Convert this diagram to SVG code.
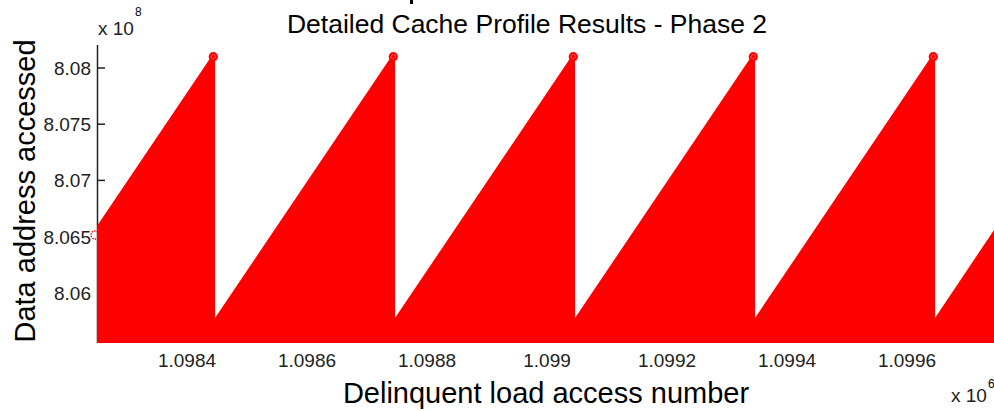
<svg xmlns="http://www.w3.org/2000/svg" width="994" height="411" viewBox="0 0 994 411">
<style>
text{font-family:"Liberation Sans",Arial,sans-serif;fill:#000}
.tk{font-size:19px;fill:#222}
.ty{text-anchor:end}
.tx{text-anchor:middle}
.lab{font-size:29px}
.axis{stroke:#222;stroke-width:1.5;fill:none}
.mk{fill:#f00}
.mkd{fill:none;stroke:#fff;stroke-width:0.8;stroke-dasharray:1 1.6}
</style>
<rect width="994" height="411" fill="#fff"/>
<rect x="410" y="0" width="3" height="4" fill="#000"/>
<g id="title"><text x="527" y="33" font-size="26.5" text-anchor="middle">Detailed Cache Profile Results - Phase 2</text></g>
<g id="y-axis">
<line class="axis" x1="97.5" y1="45" x2="97.5" y2="343"/>
<line class="axis" x1="97" y1="68" x2="105" y2="68"/>
<line class="axis" x1="97" y1="124.2" x2="105" y2="124.2"/>
<line class="axis" x1="97" y1="180.4" x2="105" y2="180.4"/>
<line class="axis" x1="97" y1="236.6" x2="105" y2="236.6"/>
<line class="axis" x1="97" y1="292.8" x2="105" y2="292.8"/>
<text class="tk ty" x="91" y="75">8.08</text>
<text class="tk ty" x="91" y="131.2">8.075</text>
<text class="tk ty" x="91" y="187.4">8.07</text>
<text class="tk ty" x="91" y="243.6">8.065</text>
<text class="tk ty" x="91" y="299.8">8.06</text>
<text class="tk" x="98" y="35">x 10</text>
<text x="135" y="16" font-size="12" fill="#222">8</text>
<text class="lab" transform="translate(35,191) rotate(-90)" text-anchor="middle">Data address accessed</text>
</g>
<g id="data">
<polygon fill="#f00" points="97,343 97,226 211,57 215,57 215,318 391,57 395,57 395,318 571,57 575,57 575,318 751,57 755,57 755,318 931,57 935,57 935,318 994,230 994,343"/>
<circle cx="95" cy="235" r="4" fill="none" stroke="#f00" stroke-width="1.3" stroke-dasharray="1.5 1"/>
<circle class="mk" cx="213.3" cy="56.7" r="4.6"/>
<circle class="mkd" cx="213.3" cy="56.7" r="2.2"/>
<circle class="mk" cx="393.3" cy="56.7" r="4.6"/>
<circle class="mkd" cx="393.3" cy="56.7" r="2.2"/>
<circle class="mk" cx="573.3" cy="56.7" r="4.6"/>
<circle class="mkd" cx="573.3" cy="56.7" r="2.2"/>
<circle class="mk" cx="753.3" cy="56.7" r="4.6"/>
<circle class="mkd" cx="753.3" cy="56.7" r="2.2"/>
<circle class="mk" cx="933.3" cy="56.7" r="4.6"/>
<circle class="mkd" cx="933.3" cy="56.7" r="2.2"/>
</g>
<g id="x-axis">
<text class="tk tx" x="187" y="367">1.0984</text>
<text class="tk tx" x="307" y="367">1.0986</text>
<text class="tk tx" x="427" y="367">1.0988</text>
<text class="tk tx" x="547" y="367">1.099</text>
<text class="tk tx" x="667" y="367">1.0992</text>
<text class="tk tx" x="787" y="367">1.0994</text>
<text class="tk tx" x="907" y="367">1.0996</text>
<text class="tk" x="951" y="402">x 10</text>
<text x="988" y="388" font-size="12" fill="#222">6</text>
<text class="lab" x="546" y="403" text-anchor="middle">Delinquent load access number</text>
</g>
</svg>
